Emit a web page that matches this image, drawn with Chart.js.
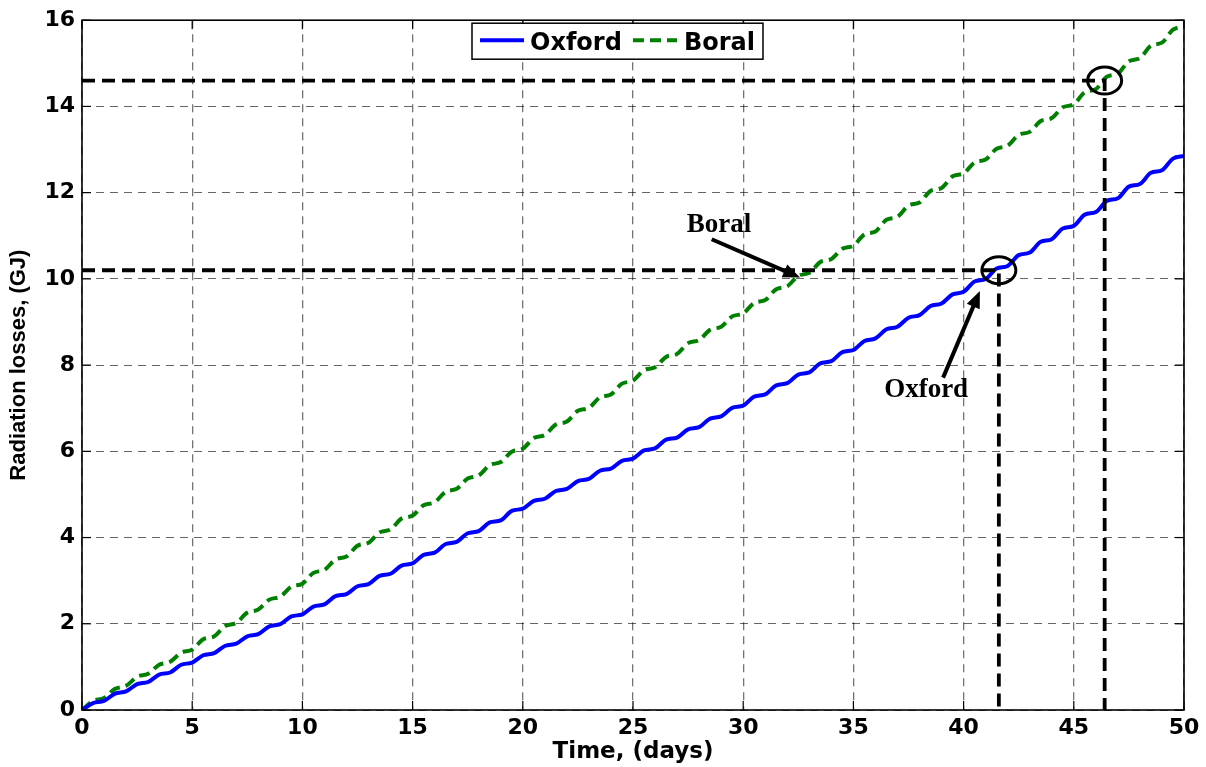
<!DOCTYPE html>
<html>
<head>
<meta charset="utf-8">
<script src="https://cdn.jsdelivr.net/npm/chart.js@4.4.0/dist/chart.umd.min.js"></script>
<style>
  html, body { margin: 0; padding: 0; background: #fff; }
  #wrap { width: 1206px; height: 767px; }
</style>
</head>
<body>
<div id="wrap"><canvas id="lossChart" width="1206" height="767"></canvas></div>
<script>
// Valores (un punto cada medio día)
const days = [
  0, 0.5, 1, 1.5, 2, 2.5, 3, 3.5, 4, 4.5,
  5, 5.5, 6, 6.5, 7, 7.5, 8, 8.5, 9, 9.5,
  10, 10.5, 11, 11.5, 12, 12.5, 13, 13.5, 14, 14.5,
  15, 15.5, 16, 16.5, 17, 17.5, 18, 18.5, 19, 19.5,
  20, 20.5, 21, 21.5, 22, 22.5, 23, 23.5, 24, 24.5,
  25, 25.5, 26, 26.5, 27, 27.5, 28, 28.5, 29, 29.5,
  30, 30.5, 31, 31.5, 32, 32.5, 33, 33.5, 34, 34.5,
  35, 35.5, 36, 36.5, 37, 37.5, 38, 38.5, 39, 39.5,
  40, 40.5, 41, 41.5, 42, 42.5, 43, 43.5, 44, 44.5,
  45, 45.5, 46, 46.5, 47, 47.5, 48, 48.5, 49, 49.5,
  50
];
const oxford = [
  0, 0.16, 0.21, 0.38, 0.43, 0.6, 0.65, 0.82, 0.87, 1.05,
  1.1, 1.27, 1.32, 1.49, 1.54, 1.71, 1.76, 1.94, 1.99, 2.17,
  2.22, 2.4, 2.45, 2.64, 2.69, 2.87, 2.92, 3.11, 3.16, 3.35,
  3.4, 3.6, 3.65, 3.85, 3.9, 4.1, 4.15, 4.35, 4.4, 4.62,
  4.67, 4.85, 4.9, 5.08, 5.13, 5.31, 5.36, 5.55, 5.6, 5.78,
  5.83, 6.02, 6.07, 6.27, 6.32, 6.51, 6.56, 6.76, 6.81, 7.01,
  7.06, 7.27, 7.32, 7.53, 7.58, 7.78, 7.83, 8.04, 8.09, 8.3,
  8.35, 8.56, 8.62, 8.83, 8.89, 9.1, 9.16, 9.37, 9.43, 9.64,
  9.7, 9.94, 10.0, 10.24, 10.3, 10.55, 10.61, 10.86, 10.92, 11.17,
  11.23, 11.49, 11.55, 11.81, 11.87, 12.14, 12.2, 12.46, 12.52, 12.79,
  12.85
];
const boral = [
  0, 0.21, 0.28, 0.49, 0.56, 0.77, 0.84, 1.05, 1.12, 1.33,
  1.4, 1.64, 1.71, 1.95, 2.02, 2.26, 2.33, 2.56, 2.63, 2.86,
  2.93, 3.18, 3.25, 3.49, 3.56, 3.81, 3.88, 4.12, 4.19, 4.44,
  4.51, 4.75, 4.82, 5.06, 5.13, 5.37, 5.44, 5.68, 5.75, 5.99,
  6.06, 6.31, 6.38, 6.62, 6.69, 6.94, 7.01, 7.25, 7.32, 7.57,
  7.64, 7.88, 7.95, 8.19, 8.26, 8.51, 8.58, 8.82, 8.89, 9.13,
  9.2, 9.44, 9.51, 9.76, 9.83, 10.07, 10.14, 10.39, 10.46, 10.7,
  10.77, 11.03, 11.1, 11.37, 11.44, 11.7, 11.77, 12.04, 12.11, 12.38,
  12.45, 12.7, 12.77, 13.02, 13.09, 13.34, 13.41, 13.66, 13.73, 13.98,
  14.05, 14.33, 14.4, 14.69, 14.76, 15.05, 15.12, 15.41, 15.48, 15.78,
  15.85
];
const xTicks = [0, 5, 10, 15, 20, 25, 30, 35, 40, 45, 50];
const yTicks = [0, 2, 4, 6, 8, 10, 12, 14, 16];
// puntos marcados con círculo (Oxford, Boral)
const markDays = [41.6, 46.4];
const markLevels = [10.2, 14.6];
const seriesNames = ['Oxford', 'Boral'];
const seriesColors = ['#0000ff', '#008000'];

function toPoints(ys) {
  return days.map((d, i) => ({ x: d, y: ys[i] }));
}
function guidePoints(i) {
  return [
    { x: 0, y: markLevels[i] },
    { x: markDays[i], y: markLevels[i] },
    { x: markDays[i], y: 0 }
  ];
}

// líneas de referencia, círculos, flechas, leyenda y marco
const extras = {
  id: 'extras',
  afterDatasetsDraw(chart) {
    const { ctx, chartArea: a, scales: { x, y } } = chart;
    const seg = (x1, y1, x2, y2) => { ctx.beginPath(); ctx.moveTo(x1, y1); ctx.lineTo(x2, y2); ctx.stroke(); };
    ctx.save();

    // marcas de los ejes hacia dentro
    ctx.strokeStyle = '#000';
    ctx.lineWidth = 1.2;
    xTicks.forEach(v => {
      const px = x.getPixelForValue(v);
      seg(px, a.bottom, px, a.bottom - 9);
      seg(px, a.top, px, a.top + 9);
    });
    yTicks.forEach(v => {
      const py = y.getPixelForValue(v);
      seg(a.left, py, a.left + 9, py);
      seg(a.right, py, a.right - 9, py);
    });

    // marco
    ctx.lineWidth = 1.6;
    ctx.strokeRect(a.left, a.top, a.right - a.left, a.bottom - a.top);

    // círculos
    ctx.lineWidth = 3;
    markDays.forEach((d, i) => {
      ctx.beginPath();
      ctx.ellipse(x.getPixelForValue(d), y.getPixelForValue(markLevels[i]), 17, 13.5, 0, 0, Math.PI * 2);
      ctx.stroke();
    });

    // etiquetas con flecha
    const notes = [
      { text: 'Boral', at: [28.9, 11.09], from: [28.57, 10.92], to: [32.58, 10.03] },
      { text: 'Oxford', at: [38.3, 7.25], from: [39.07, 7.71], to: [40.74, 9.72] }
    ];
    ctx.font = 'bold 27px "Liberation Serif", "Times New Roman", serif';
    ctx.fillStyle = '#000';
    ctx.textAlign = 'center';
    ctx.textBaseline = 'alphabetic';
    notes.forEach(n => {
      ctx.fillText(n.text, x.getPixelForValue(n.at[0]), y.getPixelForValue(n.at[1]));
      const x1 = x.getPixelForValue(n.from[0]), y1 = y.getPixelForValue(n.from[1]);
      const x2 = x.getPixelForValue(n.to[0]), y2 = y.getPixelForValue(n.to[1]);
      const ang = Math.atan2(y2 - y1, x2 - x1);
      ctx.lineWidth = 4;
      seg(x1, y1, x2 - 10 * Math.cos(ang), y2 - 10 * Math.sin(ang));
      ctx.beginPath();
      ctx.moveTo(x2, y2);
      ctx.lineTo(x2 - 17 * Math.cos(ang) + 7 * Math.sin(ang), y2 - 17 * Math.sin(ang) - 7 * Math.cos(ang));
      ctx.lineTo(x2 - 17 * Math.cos(ang) - 7 * Math.sin(ang), y2 - 17 * Math.sin(ang) + 7 * Math.cos(ang));
      ctx.closePath();
      ctx.fill();
    });

    // leyenda
    const lx = 472, ly = a.top + 3, lw = 291, lh = 36;
    ctx.fillStyle = '#fff';
    ctx.fillRect(lx, ly, lw, lh);
    ctx.lineWidth = 1.5;
    ctx.strokeStyle = '#000';
    ctx.strokeRect(lx, ly, lw, lh);
    const sampleX = [lx + 8, lx + 161];
    const textX = [lx + 58, lx + 212];
    chart.data.datasets.slice(2).forEach((ds, i) => {
      ctx.strokeStyle = ds.borderColor;
      ctx.lineWidth = 4;
      ctx.setLineDash(ds.borderDash || []);
      seg(sampleX[i], ly + 17, sampleX[i] + 44, ly + 17);
      ctx.setLineDash([]);
      ctx.fillStyle = '#000';
      ctx.textAlign = 'left';
      ctx.font = 'bold 24px "DejaVu Sans", sans-serif';
      ctx.fillText(seriesNames[i], textX[i], ly + 27);
    });

    ctx.restore();
  }
};

const tickFont = { family: '"DejaVu Sans", sans-serif', size: 22, weight: 'bold' };

new Chart(document.getElementById('lossChart'), {
  type: 'line',
  data: {
    datasets: [
      {
        label: 'guía Oxford',
        data: guidePoints(0),
        borderColor: '#000',
        borderWidth: 3.8,
        borderDash: [13, 7],
        pointRadius: 0,
        tension: 0
      },
      {
        label: 'guía Boral',
        data: guidePoints(1),
        borderColor: '#000',
        borderWidth: 3.8,
        borderDash: [13, 7],
        pointRadius: 0,
        tension: 0
      },
      {
        label: seriesNames[0],
        data: toPoints(oxford),
        borderColor: seriesColors[0],
        borderWidth: 4,
        pointRadius: 0,
        cubicInterpolationMode: 'monotone'
      },
      {
        label: seriesNames[1],
        data: toPoints(boral),
        borderColor: seriesColors[1],
        borderWidth: 4,
        borderDash: [11, 6],
        pointRadius: 0,
        cubicInterpolationMode: 'monotone'
      }
    ]
  },
  options: {
    responsive: false,
    devicePixelRatio: 1,
    animation: false,
    layout: { padding: { top: 19, right: 22, left: 0, bottom: 0 } },
    plugins: {
      legend: { display: false },
      tooltip: { enabled: false }
    },
    scales: {
      x: {
        type: 'linear',
        min: 0,
        max: 50,
        afterBuildTicks: s => { s.ticks = xTicks.map(v => ({ value: v })); },
        afterFit: s => { s.height = 57; },
        grid: { color: 'rgba(0,0,0,0.55)', lineWidth: 1.3, drawTicks: false },
        border: { display: false, dash: [8, 6] },
        ticks: { color: '#000', font: tickFont, padding: 5, maxRotation: 0 },
        title: {
          display: true,
          text: 'Time, (days)',
          color: '#000',
          font: { family: '"DejaVu Sans", sans-serif', size: 23, weight: 'bold' },
          padding: { top: 0, bottom: 1 }
        }
      },
      y: {
        min: 0,
        max: 16,
        afterBuildTicks: s => { s.ticks = yTicks.map(v => ({ value: v })); },
        afterFit: s => { s.width = 82; },
        grid: { color: 'rgba(0,0,0,0.6)', lineWidth: 1, drawTicks: false },
        border: { display: false, dash: [8, 6] },
        ticks: { color: '#000', font: tickFont, padding: 7 },
        title: {
          display: true,
          text: 'Radiation losses, (GJ)',
          color: '#000',
          font: { family: '"Liberation Sans", Arial, sans-serif', size: 22, weight: 'bold' },
          padding: { top: 6, bottom: 0 }
        }
      }
    }
  },
  plugins: [extras]
});
</script>
</body>
</html>
